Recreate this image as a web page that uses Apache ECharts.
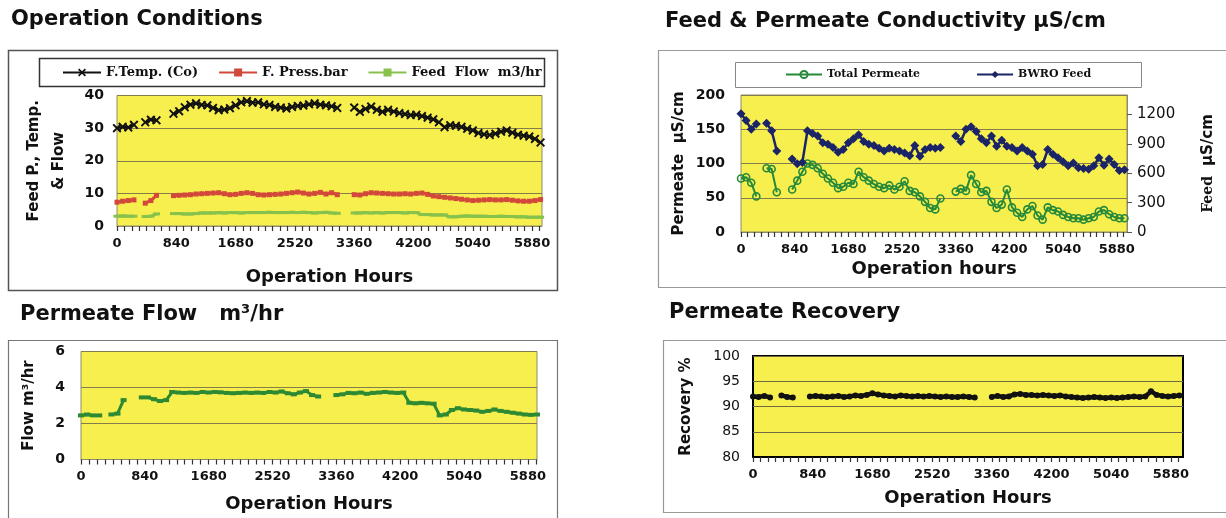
<!DOCTYPE html>
<html><head><meta charset="utf-8">
<script src="https://cdn.jsdelivr.net/npm/echarts@6/dist/echarts.min.js"></script>
<style>html,body{margin:0;padding:0;background:#fff}#c{width:1226px;height:518px}</style>
</head><body><div id="c"></div>
<script>
// ---------- DATA ----------
const hours = [0,80,160,240,320,400,480,560,640,720,800,880,960,1040,1120,1200,1280,1360,1440,1520,1600,1680,1760,1840,1920,2000,2080,2160,2240,2320,2400,2480,2560,2640,2720,2800,2880,2960,3040,3120,3200,3280,3360,3440,3520,3600,3680,3760,3840,3920,4000,4080,4160,4240,4320,4400,4480,4560,4640,4720,4800,4880,4960,5040,5120,5200,5280,5360,5440,5520,5600,5680,5760,5840,5920,6000];
const feedTemp = [30.0,30.4,30.2,31.0,null, 31.8,32.6,32.4,null,null, 34.4,35.2,36.4,37.2,37.6, 37.1,37.0,36.2,35.5,35.7, 36.1,37.0,37.9,38.3,37.8, 37.9,37.3,37.1,36.5,36.3, 36.0,36.5,36.8,36.9,37.3, 37.6,37.2,37.0,36.7,36.2, null,null,36.3,35.0,35.9, 36.6,35.6,35.0,35.6,35.1, 34.6,34.3,34.0,34.1,33.7, 33.2,32.7,31.8,30.3,30.9, 30.7,30.4,29.8,29.3,28.5, 28.1,27.9,28.3,28.9,29.3, 28.6,28.0,27.7,27.4,26.7, 25.6];
const feedPress = [7.3,7.6,7.8,8.0,null, 7.0,7.8,9.4,null,null, 9.3,9.4,9.5,9.6,9.8, 9.9,10.0,10.1,10.2,9.9, 9.6,9.7,10.0,10.2,10.0, 9.6,9.5,9.6,9.7,9.8, 10.0,10.2,10.4,10.1,9.8, 10.0,10.3,9.8,10.2,9.6, null,null,9.6,9.5,9.9, 10.2,10.1,10.0,9.9,9.8, 9.8,9.9,9.8,10.0,10.1, 9.7,9.2,9.0,8.8,8.6, 8.4,8.2,8.0,7.8,7.9, 8.0,8.1,8.0,8.0,8.1, 7.9,7.7,7.6,7.6,7.8, 8.1];
const feedFlow = [3.0,3.1,3.0,3.0,null, 2.9,3.0,3.7,null,null, 3.8,3.8,3.7,3.7,3.8, 4.0,4.0,4.0,4.1,4.0, 4.1,4.1,4.0,4.1,4.1, 4.1,4.1,4.2,4.1,4.1, 4.1,4.2,4.1,4.2,4.1, 4.0,4.1,4.2,4.0,3.9, null,null,4.0,4.0,4.1, 4.0,4.1,4.0,4.1,4.1, 4.1,4.0,4.1,4.1,3.5, 3.5,3.4,3.4,3.4,2.8, 2.8,3.0,3.1,3.0,3.0, 3.0,2.9,2.9,3.0,2.9, 2.9,2.8,2.8,2.7,2.7, 2.7];
const permeateCond = [78,80,72,52,null, 93,92,58,null,null, 62,75,88,100,98, 93,85,78,72,64, 66,72,70,88,80, 75,70,66,64,68, 62,66,74,60,58, 52,44,35,33,49, null,null,59,63,60, 83,70,58,60,44, 35,40,62,36,28, 22,33,38,24,18, 36,32,30,25,22, 20,20,18,20,22, 30,32,26,22,20, 20];
const feedCond = [1208,1139,1049,1104,null, 1111,1035,828,null,null, 745,697,711,1035,1007, 980,911,897,863,814, 842,911,952,994,925, 897,883,856,828,856, 842,828,807,780,883, 773,842,863,856,863, null,null,980,925,1049, 1076,1028,952,911,980, 876,938,876,863,828, 863,828,794,676,690, 842,794,759,718,676, 704,656,649,642,676, 759,683,745,690,628, 635];
const permeateFlow = [2.45,2.5,2.45,2.45,null, 2.5,2.55,3.3,null,null, 3.45,3.45,3.35,3.25,3.3, 3.75,3.72,3.7,3.72,3.7, 3.75,3.72,3.75,3.73,3.7, 3.68,3.7,3.72,3.7,3.72, 3.7,3.75,3.72,3.78,3.68, 3.62,3.72,3.8,3.58,3.5, null,null,3.58,3.62,3.7, 3.68,3.72,3.65,3.7,3.72, 3.75,3.72,3.7,3.72,3.15, 3.12,3.15,3.12,3.1,2.45, 2.5,2.75,2.85,2.78,2.75, 2.72,2.65,2.7,2.78,2.7, 2.65,2.6,2.55,2.5,2.48, 2.5];
const recovery = [92.0,91.9,92.1,91.8,null, 92.2,91.9,91.8,null,null, 92.0,92.1,92.0,91.9,92.0, 92.1,91.9,92.0,92.2,92.1, 92.3,92.6,92.4,92.2,92.1, 92.0,92.2,92.1,92.0,92.1, 92.0,92.1,92.0,91.9,92.0, 91.9,91.9,92.0,91.9,91.8, null,null,91.9,92.1,91.9, 92.0,92.4,92.5,92.3,92.3, 92.2,92.3,92.2,92.1,92.2, 92.0,91.9,91.8,91.7,91.8, 91.9,91.8,91.7,91.8,91.7, 91.8,91.9,92.0,91.9,92.0, 93.0,92.3,92.1,92.0,92.1, 92.2];
const hourTickStep = 840;       // labelled x ticks: 0, 840, ... 5880
const hourMinorStep = 105;      // small tick marks
const titles = ['Operation Conditions', 'Feed & Permeate Conductivity μS/cm', 'Permeate Flow   m³/hr', 'Permeate Recovery'];
const legend1 = ['F.Temp. (Co)', 'F. Press.bar', 'Feed  Flow  m3/hr'];
const legend2 = ['Total Permeate', 'BWRO Feed'];

// ---------- CHART ----------
const SANS = 'DejaVu Sans', SERIF = 'DejaVu Serif';
const YEL = '#F7EF4E', GL = '#857c4c', PB = '#8e8a6a';
const pair = v => hours.map((h, i) => [h, v[i] == null ? '-' : v[i]]);
const plain = v => String(v);
const XPATH = 'path://M0,1.5 L1.5,0 L5,3.5 L8.5,0 L10,1.5 L6.5,5 L10,8.5 L8.5,10 L5,6.5 L1.5,10 L0,8.5 L3.5,5 Z';

function xMain(g, max, gap, label, lineColor, lineW) {
  return { type: 'value', gridIndex: g, position: 'bottom', min: 0, max: max, interval: hourMinorStep,
    axisLine: { show: true, onZero: false, lineStyle: { color: lineColor, width: lineW } },
    axisTick: { show: true, inside: false, length: 5, lineStyle: { color: '#333', width: 1.2 } }, splitLine: { show: false },
    axisLabel: { show: true, showMaxLabel: false, formatter: v => (v % hourTickStep === 0 ? String(v) : ''),
      fontFamily: SANS, fontWeight: 'bold', fontSize: 13, color: '#111', margin: 11 },
    name: label, nameLocation: 'middle', nameGap: gap,
    nameTextStyle: { fontFamily: SANS, fontWeight: 'bold', fontSize: 18, color: '#111', verticalAlign: 'top' } };
}
function yAx(g, min, max, iv, name, gap, opts) {
  return Object.assign({ type: 'value', gridIndex: g, min: min, max: max, interval: iv,
    axisLine: { show: false }, axisTick: { show: false },
    splitLine: { show: true, lineStyle: { color: GL, width: 1 } },
    axisLabel: { formatter: plain, fontFamily: SANS, fontWeight: 'bold', fontSize: 14, color: '#111', margin: 13 },
    name: name, nameLocation: 'middle', nameRotate: 90, nameGap: gap,
    nameTextStyle: { fontFamily: SANS, fontWeight: 'bold', fontSize: 15, color: '#111', lineHeight: 25 } }, opts || {});
}

const option = {
  animation: false,
  backgroundColor: '#fff',
  grid: [
    { left: 117, top: 95.5, width: 425, height: 130.5, show: true, backgroundColor: YEL, borderColor: PB, borderWidth: 1 },
    { left: 741, top: 95, width: 386, height: 137, show: true, backgroundColor: YEL, borderColor: PB, borderWidth: 1 },
    { left: 81, top: 351.5, width: 456, height: 108, show: true, backgroundColor: YEL, borderColor: PB, borderWidth: 1 },
    { left: 753, top: 356, width: 430, height: 101, show: true, backgroundColor: YEL, borderColor: '#000', borderWidth: 2 }
  ],
  xAxis: [
    xMain(0, 6020, 42, 'Operation Hours', PB, 1),
    xMain(1, 6040, 28, 'Operation hours', PB, 1),
    xMain(2, 6000, 36, 'Operation Hours', PB, 1),
    xMain(3, 6050, 32, 'Operation Hours', '#000', 2)
  ],
  yAxis: [
    yAx(0, 0, 40, 10, 'Feed P., Temp.\n& Flow', 45),
    yAx(1, 0, 200, 50, 'Permeate  μS/cm', 45, { axisLabel: { formatter: plain, fontFamily: SANS, fontWeight: 'bold', fontSize: 14, color: '#111', margin: 16 } }),
    yAx(1, 0, 1400, 300, '', 74, {
      position: 'right', splitLine: { show: false },
      axisLine: { show: true, lineStyle: { color: PB } },
      axisTick: { show: true, length: 5, lineStyle: { color: '#555' } },
      axisLabel: { showMaxLabel: false, formatter: plain, fontFamily: SANS, fontSize: 15, color: '#111', margin: 10 },
      name: '{a|Feed}   {b|μS/cm}',
      nameTextStyle: { rich: {
        a: { fontFamily: SERIF, fontWeight: 'bold', fontSize: 14, color: '#111' },
        b: { fontFamily: SANS, fontWeight: 'bold', fontSize: 15, color: '#111' } } }
    }),
    yAx(2, 0, 6, 2, 'Flow m³/hr', 39, { axisLabel: { formatter: plain, fontFamily: SANS, fontWeight: 'bold', fontSize: 14, color: '#111', margin: 16 } }),
    yAx(3, 80, 100, 5, 'Recovery %', 54, { splitLine: { show: true, lineStyle: { color: '#6f6a40', width: 1 } },
      axisLabel: { formatter: plain, fontFamily: SANS, fontSize: 14, color: '#111', margin: 13 } })
  ],
  legend: [
    { data: legend1, left: 62, top: 66, itemWidth: 38, itemHeight: 10, itemGap: 20, padding: 0, selectedMode: false,
      textStyle: { fontFamily: SERIF, fontWeight: 'bold', fontSize: 13, color: '#111' } },
    { data: legend2, left: 785, top: 69, itemWidth: 36, itemHeight: 9, itemGap: 56, padding: 0, selectedMode: false,
      textStyle: { fontFamily: SERIF, fontWeight: 'bold', fontSize: 11, color: '#111' } }
  ],
  graphic: [
    { type: 'rect', silent: true, shape: { x: 8.5, y: 50.5, width: 549, height: 240 }, style: { fill: null, stroke: '#555', lineWidth: 1.5 } },
    { type: 'rect', silent: true, shape: { x: 658.5, y: 50.5, width: 580, height: 237 }, style: { fill: null, stroke: '#999', lineWidth: 1.2 } },
    { type: 'rect', silent: true, shape: { x: 8.5, y: 340.5, width: 549, height: 200 }, style: { fill: null, stroke: '#777', lineWidth: 1.2 } },
    { type: 'rect', silent: true, shape: { x: 663.5, y: 340.5, width: 580, height: 172 }, style: { fill: null, stroke: '#999', lineWidth: 1.2 } },
    { type: 'rect', silent: true, shape: { x: 39.5, y: 58.5, width: 505, height: 28 }, style: { fill: null, stroke: '#333', lineWidth: 1.5 } },
    { type: 'rect', silent: true, shape: { x: 735.5, y: 62.5, width: 406, height: 25 }, style: { fill: null, stroke: '#888', lineWidth: 1 } },
    { type: 'text', x: 11, y: 20, style: { text: titles[0], fontFamily: SANS, fontWeight: 'bold', fontSize: 21, fill: '#111', verticalAlign: 'middle' } },
    { type: 'text', x: 665, y: 22, style: { text: titles[1], fontFamily: SANS, fontWeight: 'bold', fontSize: 21, fill: '#111', verticalAlign: 'middle' } },
    { type: 'text', x: 20, y: 315, style: { text: titles[2], fontFamily: SANS, fontWeight: 'bold', fontSize: 21, fill: '#111', verticalAlign: 'middle' } },
    { type: 'text', x: 669, y: 313, style: { text: titles[3], fontFamily: SANS, fontWeight: 'bold', fontSize: 21, fill: '#111', verticalAlign: 'middle' } }
  ],
  series: [
    { name: legend1[0], type: 'line', xAxisIndex: 0, yAxisIndex: 0, data: pair(feedTemp), symbol: XPATH, symbolSize: 9,
      lineStyle: { color: '#111', width: 2 }, itemStyle: { color: '#111' } },
    { name: legend1[1], type: 'line', xAxisIndex: 0, yAxisIndex: 0, data: pair(feedPress), symbol: 'rect', symbolSize: 5,
      lineStyle: { color: '#d2483a', width: 3 }, itemStyle: { color: '#d2483a' } },
    { name: legend1[2], type: 'line', xAxisIndex: 0, yAxisIndex: 0, data: pair(feedFlow), symbol: 'rect', symbolSize: [7, 3],
      lineStyle: { color: '#86c24c', width: 3 }, itemStyle: { color: '#86c24c' } },
    { name: legend2[0], type: 'line', xAxisIndex: 1, yAxisIndex: 1, data: pair(permeateCond), symbol: 'circle', symbolSize: 7,
      lineStyle: { color: '#268a3a', width: 2 }, itemStyle: { color: 'rgba(0,0,0,0)', borderColor: '#268a3a', borderWidth: 1.6 } },
    { name: legend2[1], type: 'line', xAxisIndex: 1, yAxisIndex: 2, data: pair(feedCond), symbol: 'diamond', symbolSize: 9,
      lineStyle: { color: '#1b2466', width: 2.5 }, itemStyle: { color: '#1b2466' } },
    { name: 'Permeate Flow', type: 'line', xAxisIndex: 2, yAxisIndex: 3, data: pair(permeateFlow), symbol: 'rect', symbolSize: [6, 4],
      lineStyle: { color: '#2e8a32', width: 3 }, itemStyle: { color: '#2e8a32' } },
    { name: 'Recovery', type: 'line', xAxisIndex: 3, yAxisIndex: 4, data: pair(recovery), symbol: 'circle', symbolSize: 6,
      lineStyle: { color: '#111', width: 4.5 }, itemStyle: { color: '#111' } }
  ]
};
const chart = echarts.init(document.getElementById('c'), null, { renderer: 'canvas' });
chart.setOption(option);
</script></body></html>
